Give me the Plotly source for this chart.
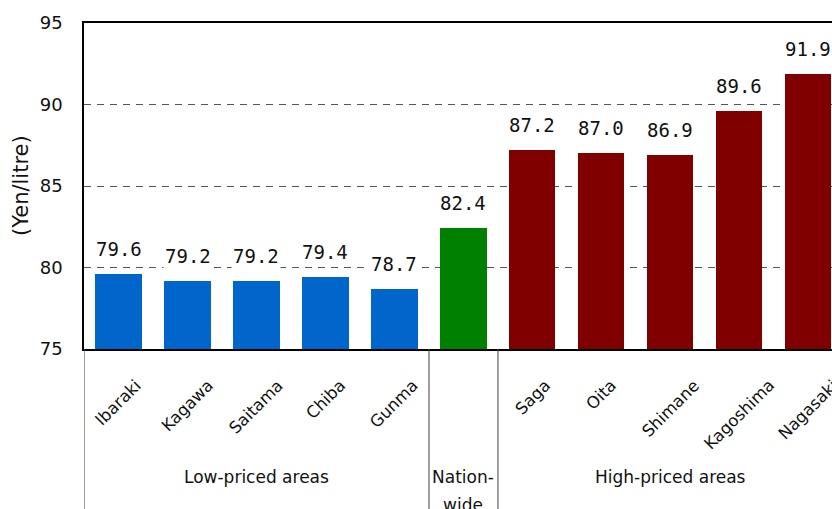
import plotly.graph_objects as go

categories = ["Ibaraki", "Kagawa", "Saitama", "Chiba", "Gunma", "Nation-wide",
              "Saga", "Oita", "Shimane", "Kagoshima", "Nagasaki"]
tick_labels = ["Ibaraki", "Kagawa", "Saitama", "Chiba", "Gunma", "",
               "Saga", "Oita", "Shimane", "Kagoshima", "Nagasaki"]
values = [79.6, 79.2, 79.2, 79.4, 78.7, 82.4, 87.2, 87.0, 86.9, 89.6, 91.9]
groups = ["low", "low", "low", "low", "low", "nation",
          "high", "high", "high", "high", "high"]
group_colors = {"low": "#0066CC", "nation": "#008000", "high": "#800000"}
group_labels = [("Low-priced areas", 2, 0), ("Nation-", 5, 0), ("wide", 5, 1), ("High-priced areas", 8, 0)]
separators = [-0.5, 4.5, 5.5]
y_ticks = [75, 80, 85, 90, 95]

xs = list(range(len(categories)))
colors = [group_colors[g] for g in groups]

fig = go.Figure()
fig.add_trace(go.Bar(x=xs, y=values, marker=dict(color=colors, line=dict(width=0)),
                     width=0.667, hoverinfo="skip"))

ann = []
for x, v in zip(xs, values):
    ann.append(dict(x=x, y=v, xref="x", yref="y", text=f"{v:.1f}", showarrow=False,
                    yanchor="middle", xanchor="center", yshift=25,
                    bgcolor="white", borderpad=1,
                    font=dict(family="DejaVu Sans Mono", size=19, color="#111")))
for x, c in zip(xs, tick_labels):
    if not c:
        continue
    ann.append(dict(x=x, y=0, xref="x", yref="paper", text=c, showarrow=False,
                    textangle=-45, xanchor="center", yanchor="top", yshift=-24,
                    font=dict(family="DejaVu Sans", size=16.5, color="#111")))
for txt, x, line in group_labels:
    ann.append(dict(x=x, y=0, xref="x", yref="paper", text=txt, showarrow=False,
                    xanchor="center", yanchor="middle", yshift=-128 - 28 * line,
                    font=dict(family="DejaVu Sans", size=17, color="#111")))
ann.append(dict(x=0, y=0.5, xref="paper", yref="paper", text="(Yen/litre)", showarrow=False,
                textangle=-90, xanchor="center", yanchor="middle", xshift=-63,
                font=dict(family="DejaVu Sans", size=21, color="#111")))

shapes = []
for s in separators:
    shapes.append(dict(type="line", xref="x", yref="paper", x0=s, x1=s, y0=0, y1=-0.5,
                       line=dict(color="#404040", width=1)))

fig.update_layout(
    width=832, height=509,
    margin=dict(l=84, r=0, t=23, b=160),
    paper_bgcolor="white", plot_bgcolor="white",
    showlegend=False, bargap=0,
    annotations=ann, shapes=shapes,
    xaxis=dict(range=[-0.5, 10.341], showticklabels=False, ticks="", showgrid=False,
               showline=True, linecolor="black", linewidth=1.5, mirror=True, zeroline=False),
    yaxis=dict(range=[75, 95], tickvals=y_ticks, showline=True, linecolor="black", linewidth=1.5,
               showgrid=True, gridcolor="#555", griddash="7px,6px", gridwidth=1,
               zeroline=False, ticks="", ticklabelstandoff=16,
               tickfont=dict(family="DejaVu Sans", size=18, color="#111")),
)
fig.write_html("out.html")
